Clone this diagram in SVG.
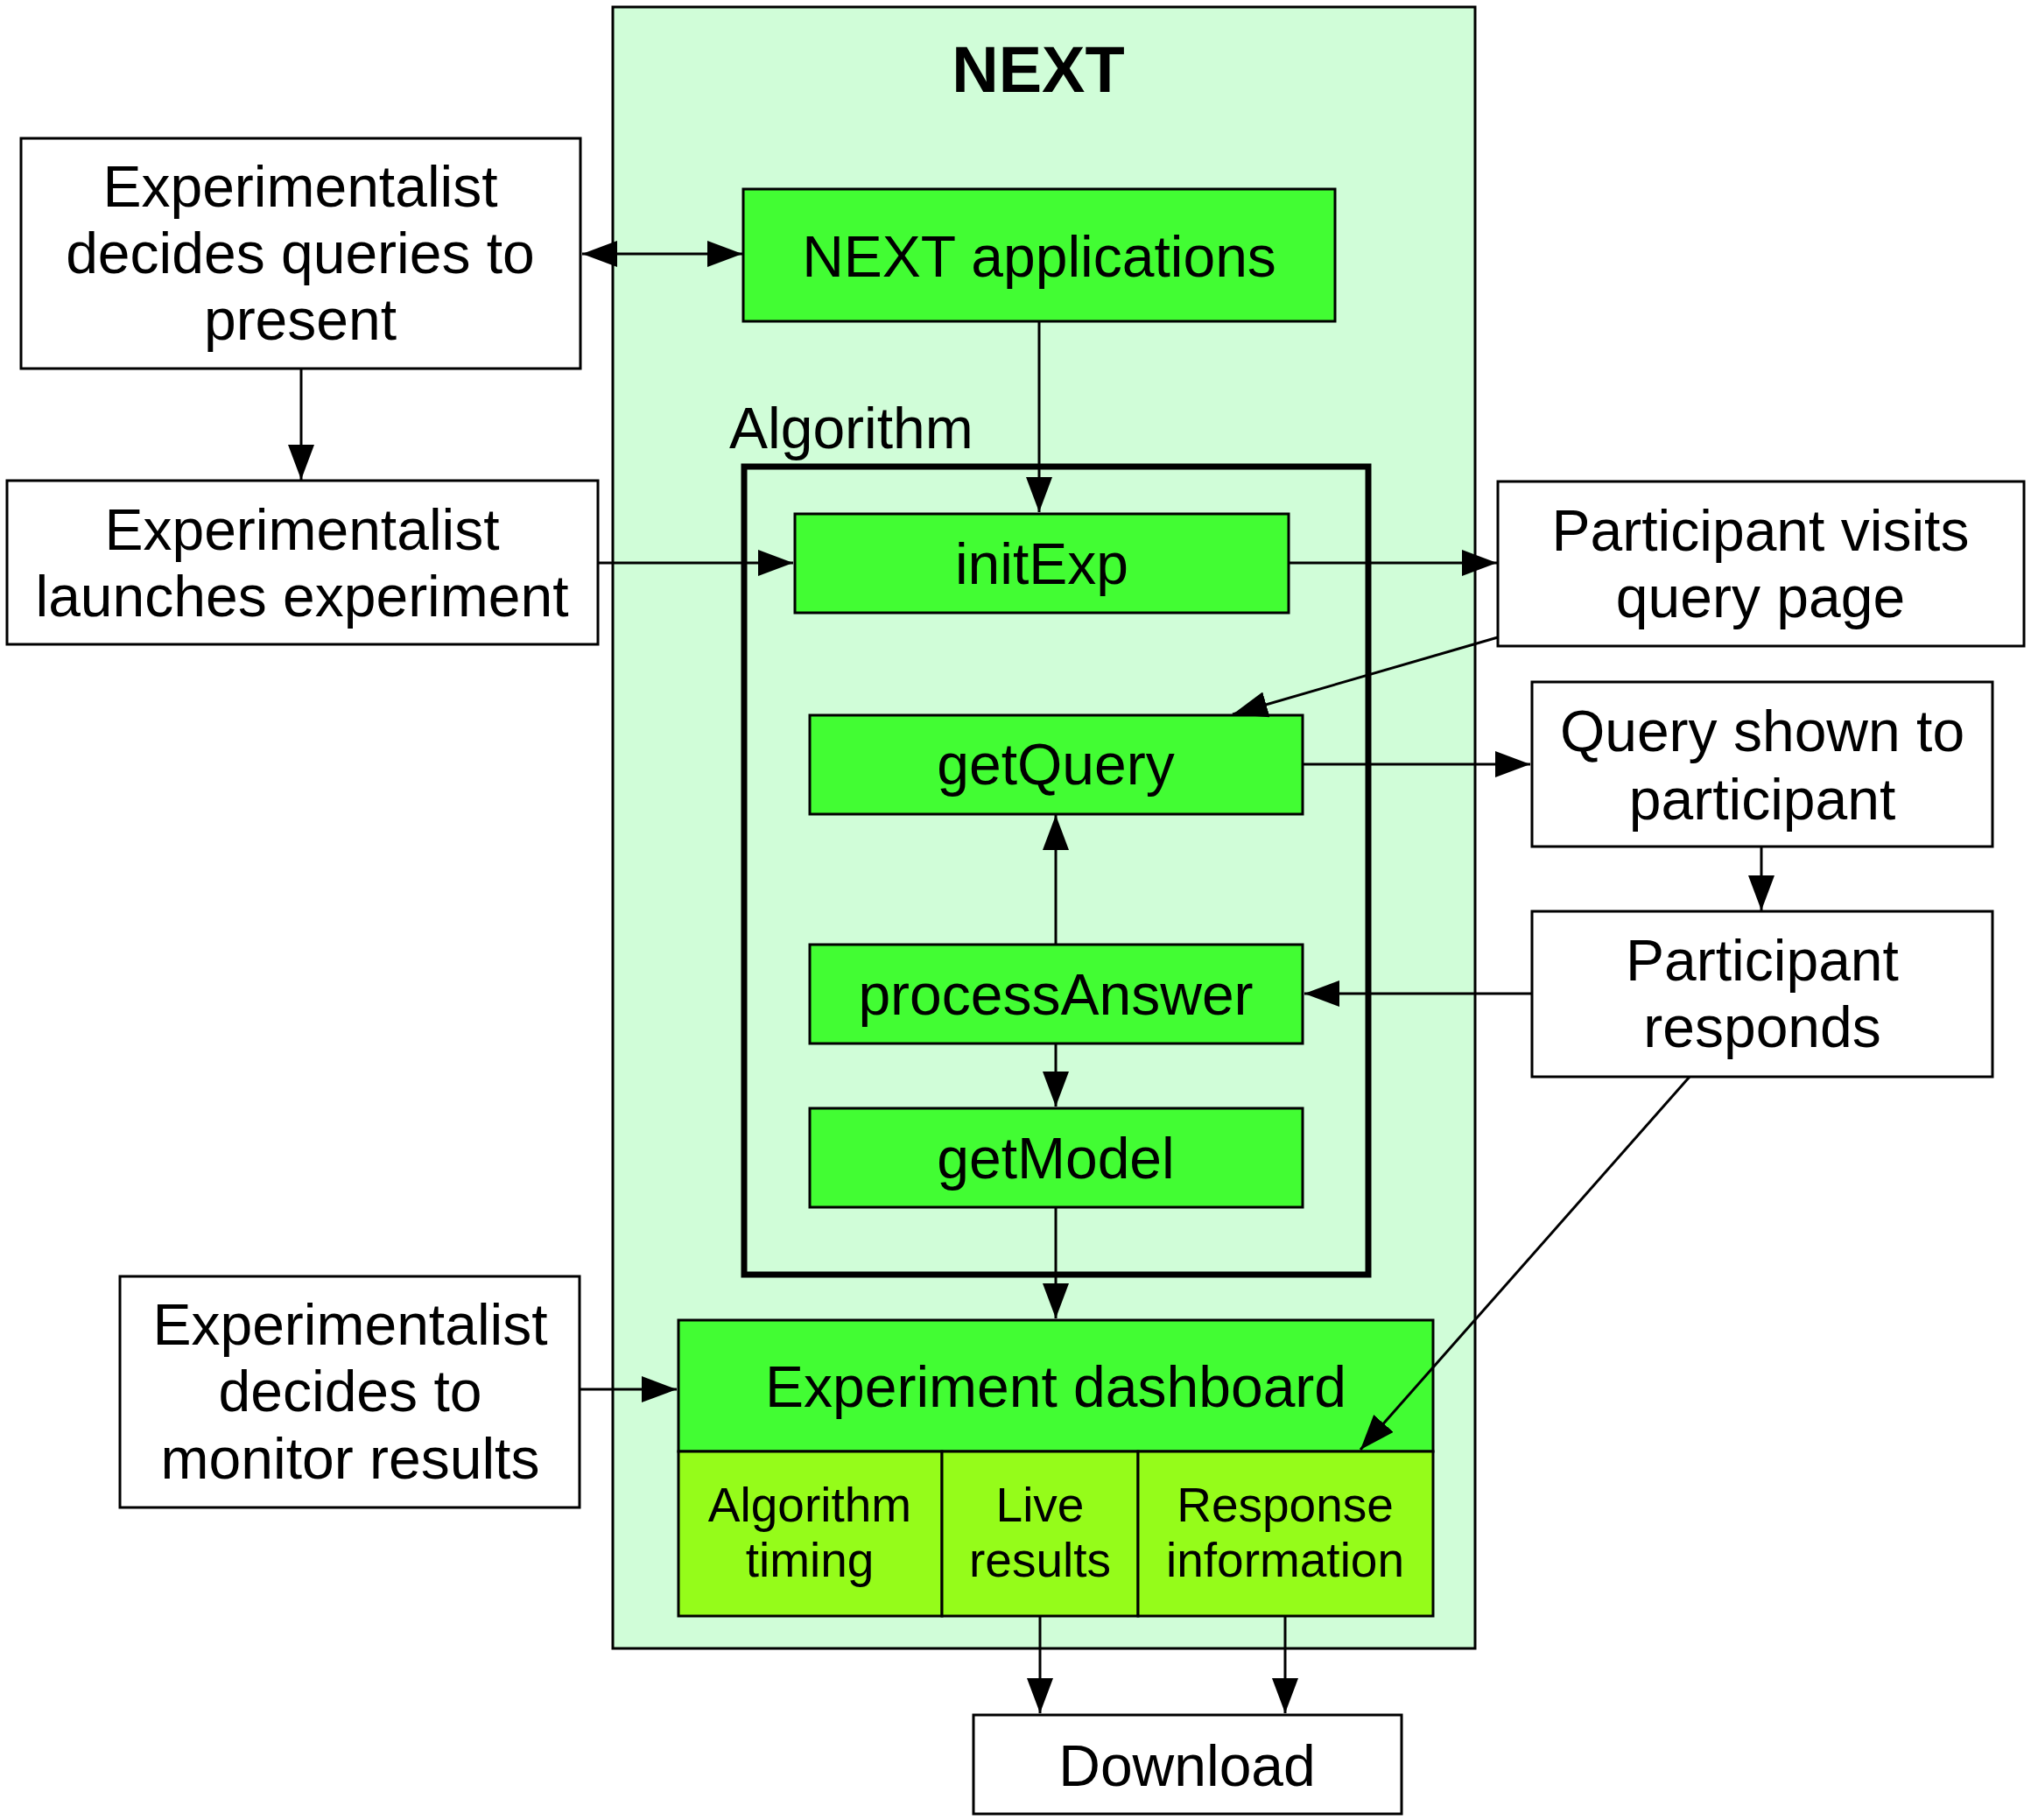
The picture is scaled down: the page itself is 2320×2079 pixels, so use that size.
<svg xmlns="http://www.w3.org/2000/svg" width="2320" height="2079" viewBox="0 0 2320 2079">
<style>
.box{fill:#ffffff;stroke:#000;stroke-width:3}
.grn{fill:#42fd33;stroke:#000;stroke-width:3}
.ylw{fill:#95fc1a;stroke:#000;stroke-width:3}
.t{font-family:"Liberation Sans",Arial,Helvetica,sans-serif;font-size:66px;text-anchor:middle;fill:#000}
.s{font-family:"Liberation Sans",Arial,Helvetica,sans-serif;font-size:55px;text-anchor:middle;fill:#000}
.c{fill:none;stroke:#000;stroke-width:3;marker-end:url(#ah)}
</style>
<defs>
<marker id="ah" markerUnits="userSpaceOnUse" markerWidth="40" markerHeight="30" refX="40" refY="15" orient="auto-start-reverse" viewBox="0 0 40 30">
<path d="M0,0 L40,15 L0,30 z" fill="#000"/>
</marker>
</defs>
<rect width="2320" height="2079" fill="#ffffff"/>
<g id="next">
<rect x="700" y="8" width="985" height="1875" fill="#d0fdd8" stroke="#000" stroke-width="3"/>
<text x="1186" y="105" class="t" style="font-weight:bold;font-size:74px">NEXT</text>
</g>
<g id="algorithm">
<rect x="850" y="533" width="713" height="923" fill="none" stroke="#000" stroke-width="7"/>
<text x="833" y="512" class="t" style="text-anchor:start">Algorithm</text>
</g>
<g id="exp-decides-queries">
<rect x="24" y="158" width="639" height="263" class="box"/>
<text class="t"><tspan x="343" y="236">Experimentalist</tspan><tspan x="343" y="312">decides queries to</tspan><tspan x="343" y="388">present</tspan></text>
</g>
<g id="exp-launches">
<rect x="8" y="549" width="675" height="187" class="box"/>
<text class="t"><tspan x="345" y="628">Experimentalist</tspan><tspan x="345" y="704">launches experiment</tspan></text>
</g>
<g id="next-apps">
<rect x="849" y="216" width="676" height="151" class="grn"/>
<text x="1187" y="316" class="t">NEXT applications</text>
</g>
<g id="initExp">
<rect x="908" y="587" width="564" height="113" class="grn"/>
<text x="1190" y="667" class="t">initExp</text>
</g>
<g id="getQuery">
<rect x="925" y="817" width="563" height="113" class="grn"/>
<text x="1206" y="896" class="t">getQuery</text>
</g>
<g id="processAnswer">
<rect x="925" y="1079" width="563" height="113" class="grn"/>
<text x="1206" y="1159" class="t">processAnswer</text>
</g>
<g id="getModel">
<rect x="925" y="1266" width="563" height="113" class="grn"/>
<text x="1206" y="1346" class="t">getModel</text>
</g>
<g id="dashboard">
<rect x="775" y="1508" width="862" height="150" class="grn"/>
<text x="1206" y="1607" class="t">Experiment dashboard</text>
<rect x="775" y="1658" width="301" height="188" class="ylw"/>
<rect x="1076" y="1658" width="224" height="188" class="ylw"/>
<rect x="1300" y="1658" width="337" height="188" class="ylw"/>
<text class="s"><tspan x="925" y="1738">Algorithm</tspan><tspan x="925" y="1801">timing</tspan></text>
<text class="s"><tspan x="1188" y="1738">Live</tspan><tspan x="1188" y="1801">results</tspan></text>
<text class="s"><tspan x="1468" y="1738">Response</tspan><tspan x="1468" y="1801">information</tspan></text>
</g>
<g id="participant-visits">
<rect x="1711" y="550" width="601" height="188" class="box"/>
<text class="t"><tspan x="2011" y="629">Participant visits</tspan><tspan x="2011" y="705">query page</tspan></text>
</g>
<g id="query-shown">
<rect x="1750" y="779" width="526" height="188" class="box"/>
<text class="t"><tspan x="2013" y="858">Query shown to</tspan><tspan x="2013" y="936">participant</tspan></text>
</g>
<g id="participant-responds">
<rect x="1750" y="1041" width="526" height="189" class="box"/>
<text class="t"><tspan x="2013" y="1120">Participant</tspan><tspan x="2013" y="1196">responds</tspan></text>
</g>
<g id="exp-monitor">
<rect x="137" y="1458" width="525" height="264" class="box"/>
<text class="t"><tspan x="400" y="1536">Experimentalist</tspan><tspan x="400" y="1612">decides to</tspan><tspan x="400" y="1689">monitor results</tspan></text>
</g>
<g id="download">
<rect x="1112" y="1959" width="489" height="113" class="box"/>
<text x="1356" y="2040" class="t">Download</text>
</g>
<g id="connectors">
<line x1="665" y1="290" x2="848" y2="290" class="c" style="marker-start:url(#ah)"/>
<line x1="344" y1="421" x2="344" y2="548" class="c"/>
<line x1="1187" y1="367" x2="1187" y2="585" class="c"/>
<line x1="683" y1="643" x2="906" y2="643" class="c"/>
<line x1="1472" y1="643" x2="1710" y2="643" class="c"/>
<line x1="1711" y1="728" x2="1408" y2="816" class="c"/>
<line x1="1488" y1="873" x2="1748" y2="873" class="c"/>
<line x1="2012" y1="967" x2="2012" y2="1040" class="c"/>
<line x1="1750" y1="1135" x2="1490" y2="1135" class="c"/>
<line x1="1206" y1="1079" x2="1206" y2="931" class="c"/>
<line x1="1206" y1="1192" x2="1206" y2="1264" class="c"/>
<line x1="1206" y1="1379" x2="1206" y2="1506" class="c"/>
<line x1="662" y1="1587" x2="773" y2="1587" class="c"/>
<line x1="1930" y1="1230" x2="1554" y2="1656" class="c"/>
<line x1="1188" y1="1846" x2="1188" y2="1957" class="c"/>
<line x1="1468" y1="1846" x2="1468" y2="1957" class="c"/>
</g>
</svg>
